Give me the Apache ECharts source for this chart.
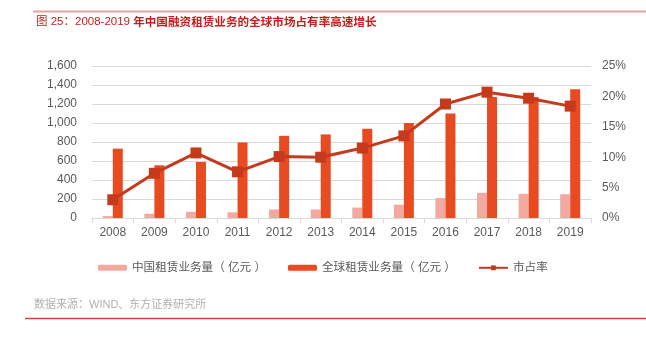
<!DOCTYPE html>
<html><head><meta charset="utf-8">
<script src="https://cdn.jsdelivr.net/npm/echarts@6/dist/echarts.min.js"></script>
<style>html,body{margin:0;padding:0;background:#fff}#c{width:646px;height:339px}</style>
</head><body><div id="c"></div>
<script>
const years = ['2008','2009','2010','2011','2012','2013','2014','2015','2016','2017','2018','2019'];
const chinaVolume = [20,45,65,60,90,90,110,140,210,265,255,250];
const globalVolume = [730,555,590,795,865,880,940,1000,1100,1275,1275,1355];
const marketShare = [3.0,7.35,10.7,7.6,10.1,10.0,11.5,13.5,18.75,20.7,19.7,18.4];
const leftTicks = [0,200,400,600,800,1000,1200,1400,1600];
const rightTicks = [0,5,10,15,20,25];
const names = ['中国租赁业务量（ 亿元 ）','全球租赁业务量（ 亿元 ）','市占率'];

const font = '"Liberation Sans", Arial, "Noto Sans CJK SC", sans-serif';
const chart = echarts.init(document.getElementById('c'));
chart.setOption({
  animation:false,
  textStyle:{fontFamily:font},
  graphic:[
    {type:'line',shape:{x1:33,y1:11.5,x2:646,y2:11.5},style:{stroke:'#E8A0A0',lineWidth:2}},
    {type:'text',left:36,top:16,style:{rich:{a:{fontSize:11.5,fill:'#C41E1E',fontFamily:font},b:{fontSize:11.6,fill:'#C41E1E',fontWeight:'bold',fontFamily:'"Noto Sans CJK SC", sans-serif'}},text:'{a|图 25：2008-2019 }{b|年中国融资租赁业务的全球市场占有率高速增长}'}},
    {type:'text',left:34,top:299,style:{text:'数据来源：WIND、东方证券研究所',fontSize:11,fill:'#B0B0B0',fontFamily:font}},
    {type:'line',shape:{x1:25,y1:318.5,x2:646,y2:318.5},style:{stroke:'#D9403A',lineWidth:1.5}}
  ],
  grid:{left:92,right:55,top:66,bottom:121},
  legend:{left:93,top:257,itemGap:22,itemWidth:29,itemHeight:6,
    textStyle:{fontSize:11.6,color:'#595959',fontFamily:font},
    data:names},
  xAxis:{type:'category',data:years,
    axisLine:{lineStyle:{color:'#D9D9D9'}},
    axisTick:{show:true,lineStyle:{color:'#D9D9D9'},length:5},
    axisLabel:{color:'#595959',fontSize:12,margin:9}},
  yAxis:[
    {type:'value',min:leftTicks[0],max:leftTicks[leftTicks.length-1],interval:200,
      axisLine:{show:false},axisTick:{show:false},
      splitLine:{lineStyle:{color:'#D9D9D9'}},
      axisLabel:{color:'#595959',fontSize:12,margin:15,
        formatter:v=>v.toLocaleString('en-US')}},
    {type:'value',min:rightTicks[0],max:rightTicks[rightTicks.length-1],interval:5,
      axisLine:{show:false},axisTick:{show:false},splitLine:{show:false},
      axisLabel:{color:'#595959',fontSize:12,margin:11,formatter:'{value}%'}}
  ],
  series:[
    {name:names[0],type:'bar',data:chinaVolume,barWidth:10,barGap:'0%',
      itemStyle:{color:'#F2A9A0'}},
    {name:names[1],type:'bar',data:globalVolume,barWidth:10,barGap:'0%',
      itemStyle:{color:'#E84A22'}},
    {name:names[2],type:'line',yAxisIndex:1,data:marketShare,
      symbol:'rect',symbolSize:11,
      lineStyle:{color:'#C53A1C',width:3},itemStyle:{color:'#C53A1C'}}
  ]
});
</script></body></html>
